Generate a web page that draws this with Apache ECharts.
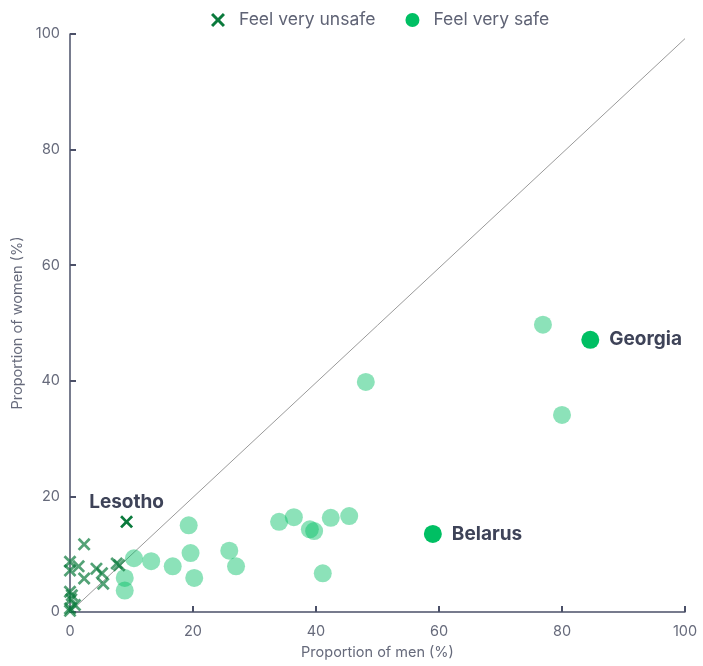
<!DOCTYPE html>
<html>
<head>
<meta charset="utf-8">
<script src="https://cdn.jsdelivr.net/npm/echarts@6/dist/echarts.min.js"></script>
<style>
  html, body { margin: 0; padding: 0; background: #fff; }
  #chart { width: 703px; height: 666px; }
</style>
</head>
<body>
<div id="chart"></div>
<script>
// proportion of men (%) / proportion of women (%) feeling very unsafe
var unsafeMen   = [2.3, 0, 0, 1.4, 2.3, 4.3, 5.2, 5.4, 7.6, 8.0, 0, 0.3, 0.8, 0, 0, 0.2, 9.2];
var unsafeWomen = [11.7, 8.7, 7.2, 7.9, 5.8, 7.5, 6.7, 4.9, 8.4, 8.1, 3.5, 2.9, 1.2, 0.6, 0.2, 2.2, 15.6];
var unsafeNames = ['', '', '', '', '', '', '', '', '', '', '', '', '', '', '', '', 'Lesotho'];

// proportion of men (%) / proportion of women (%) feeling very safe
var safeMen   = [76.9, 80.0, 84.6, 48.1, 59.0, 45.4, 42.4, 36.4, 34.0, 39.0, 39.7, 41.1,
                 19.3, 19.6, 20.2, 25.9, 27.0, 16.7, 13.2, 10.4, 8.9, 8.9];
var safeWomen = [49.7, 34.1, 47.1, 39.8, 13.5, 16.6, 16.3, 16.4, 15.6, 14.3, 14.0, 6.7,
                 15.0, 10.2, 5.9, 10.6, 7.9, 7.9, 8.8, 9.3, 5.9, 3.7];
var safeNames = ['', '', 'Georgia', '', 'Belarus', '', '', '', '', '', '', '',
                 '', '', '', '', '', '', '', '', '', ''];

var parity = [[0, 0], [100, 99.2]];

var crossPath = 'path://M0,1.5L1.5,0L5,3.5L8.5,0L10,1.5L6.5,5L10,8.5L8.5,10L5,6.5L1.5,10L0,8.5L3.5,5Z';
var darkGreen = '#0a7a3c';
var green = '#00bf63';
var textDark = '#3e4358';
var axisColor = '#4b5068';
var font = 'Inter, "Noto Sans", sans-serif';

function buildData(xs, ys, names, side, dist) {
  return xs.map(function (x, i) {
    var item = { value: [x, ys[i]], name: names[i] };
    if (names[i]) {
      item.itemStyle = { opacity: 1 };
      item.label = {
        show: true,
        formatter: names[i],
        position: side,
        distance: dist,
        color: textDark,
        fontSize: 19,
        fontWeight: 'bold',
        fontFamily: font
      };
      item.z = 5;
    }
    return item;
  });
}

var chart = echarts.init(document.getElementById('chart'));
var option = {
  backgroundColor: '#ffffff',
  animation: false,
  textStyle: { fontFamily: font },
  legend: {
    top: 6,
    left: 206,
    itemGap: 30,
    itemWidth: 14,
    itemHeight: 14,
    textStyle: { color: '#5f6375', fontSize: 17.5, fontFamily: font, padding: [0, 0, 0, 9] },
    data: [
      { name: 'Feel very unsafe', icon: crossPath, itemStyle: { color: darkGreen, opacity: 1 } },
      { name: 'Feel very safe', icon: 'circle', itemStyle: { color: green, opacity: 1 } }
    ]
  },
  grid: { left: 70, right: 18, top: 34, bottom: 54 },
  xAxis: {
    type: 'value',
    min: 0, max: 100, interval: 20,
    name: 'Proportion of men (%)',
    nameLocation: 'middle',
    nameGap: 33,
    nameTextStyle: { color: '#666a7b', fontSize: 14.5 },
    axisLine: { lineStyle: { color: axisColor, width: 1.5 } },
    axisTick: { inside: true, length: 6, lineStyle: { color: axisColor, width: 2 } },
    axisLabel: { color: '#666a7b', fontSize: 14.5, margin: 12 },
    splitLine: { show: false }
  },
  yAxis: {
    type: 'value',
    min: 0, max: 100, interval: 20,
    name: 'Proportion of women (%)',
    nameLocation: 'middle',
    nameGap: 45,
    nameTextStyle: { color: '#666a7b', fontSize: 14.5 },
    axisLine: { lineStyle: { color: axisColor, width: 1.5 } },
    axisTick: { inside: true, length: 6, lineStyle: { color: axisColor, width: 2 } },
    axisLabel: { color: '#666a7b', fontSize: 14.5, margin: 10 },
    splitLine: { show: false }
  },
  series: [
    {
      name: 'parity',
      type: 'line',
      data: parity,
      symbol: 'none',
      silent: true,
      lineStyle: { color: '#9a9a9a', width: 1 },
      z: 1
    },
    {
      name: 'Feel very safe',
      type: 'scatter',
      symbol: 'circle',
      symbolSize: 18,
      itemStyle: { color: green, opacity: 0.45 },
      data: buildData(safeMen, safeWomen, safeNames, 'right', 10),
      z: 2
    },
    {
      name: 'Feel very unsafe',
      type: 'scatter',
      symbol: crossPath,
      symbolSize: 13,
      itemStyle: { color: darkGreen, opacity: 0.7 },
      data: buildData(unsafeMen, unsafeWomen, unsafeNames, 'top', 4),
      z: 3
    }
  ]
};
chart.setOption(option);
</script>
</body>
</html>
